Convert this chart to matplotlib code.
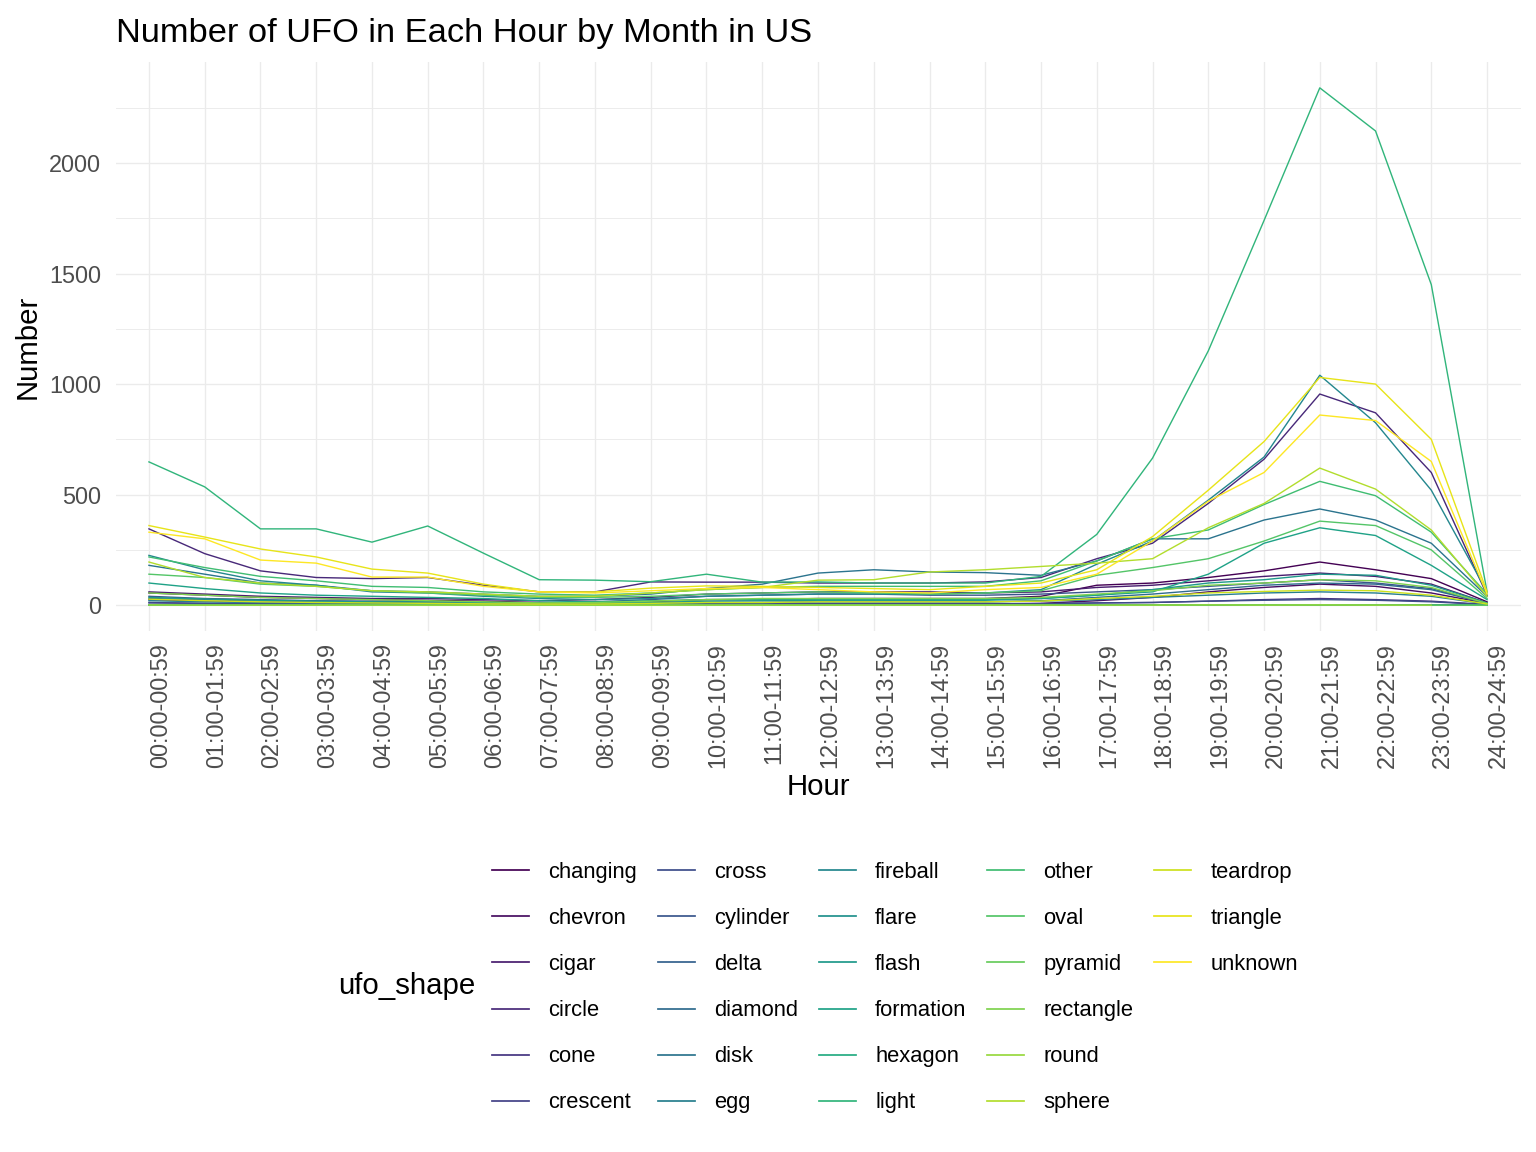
import numpy as np
import matplotlib
matplotlib.use('Agg')
import matplotlib.pyplot as plt
from matplotlib.lines import Line2D
from matplotlib.ticker import MultipleLocator

plt.rcParams['font.family'] = ['Liberation Sans', 'DejaVu Sans']

hours = ['%02d:00-%02d:59' % (h, h) for h in range(25)]

shapes = ['changing', 'chevron', 'cigar', 'circle', 'cone', 'crescent', 'cross',
          'cylinder', 'delta', 'diamond', 'disk', 'egg', 'fireball', 'flare',
          'flash', 'formation', 'hexagon', 'light', 'other', 'oval', 'pyramid',
          'rectangle', 'round', 'sphere', 'teardrop', 'triangle', 'unknown']

changing = [55, 45, 35, 30, 25, 22, 18, 12, 10, 15, 25, 25, 30, 30, 30, 30, 40, 90, 100, 125, 155, 195, 160, 120, 15]
chevron = [25, 18, 12, 10, 8, 6, 5, 3, 2, 3, 5, 5, 5, 5, 5, 5, 8, 20, 35, 60, 80, 95, 85, 55, 8]
cigar = [60, 50, 40, 35, 30, 30, 25, 20, 25, 35, 50, 55, 60, 60, 60, 55, 60, 80, 90, 110, 130, 145, 130, 95, 10]
circle = [345, 233, 155, 125, 120, 125, 90, 60, 60, 105, 104, 104, 100, 100, 100, 105, 125, 210, 280, 460, 660, 955, 870, 600, 45]
cone = [12, 8, 6, 5, 4, 4, 3, 2, 2, 3, 5, 5, 6, 6, 6, 6, 7, 10, 12, 18, 25, 30, 25, 18, 3]
crescent = [1, 1, 0, 0, 0, 0, 0, 0, 0, 0, 0, 0, 1, 0, 0, 0, 0, 1, 1, 1, 1, 1, 1, 1, 0]
cross = [10, 8, 6, 5, 4, 4, 3, 2, 2, 3, 5, 5, 5, 5, 5, 5, 6, 10, 12, 18, 22, 25, 22, 15, 2]
cylinder = [40, 30, 25, 20, 18, 15, 12, 10, 15, 25, 40, 45, 50, 50, 45, 45, 50, 60, 70, 85, 100, 115, 100, 75, 8]
delta = [0, 0, 0, 0, 0, 0, 0, 0, 0, 0, 0, 0, 0, 0, 0, 0, 0, 1, 1, 1, 2, 2, 1, 1, 0]
diamond = [30, 25, 18, 15, 12, 10, 8, 5, 5, 8, 12, 12, 15, 15, 15, 15, 20, 35, 50, 70, 90, 100, 95, 70, 8]
disk = [180, 140, 100, 90, 65, 60, 50, 40, 40, 50, 75, 95, 145, 160, 150, 147, 135, 200, 300, 300, 385, 435, 385, 280, 40]
egg = [20, 15, 12, 10, 8, 6, 5, 4, 5, 8, 12, 12, 15, 15, 15, 15, 18, 25, 35, 45, 55, 60, 55, 40, 5]
fireball = [225, 160, 110, 90, 60, 55, 40, 30, 25, 30, 40, 45, 50, 50, 50, 55, 70, 185, 290, 475, 670, 1040, 825, 520, 60]
flare = [0, 0, 0, 0, 0, 0, 0, 0, 0, 0, 0, 0, 0, 0, 0, 0, 0, 0, 1, 1, 1, 1, 1, 0, 0]
flash = [35, 28, 22, 18, 15, 15, 12, 10, 10, 12, 18, 20, 22, 22, 22, 22, 30, 45, 70, 100, 115, 140, 135, 90, 10]
formation = [100, 75, 55, 45, 40, 35, 30, 20, 15, 20, 25, 25, 25, 25, 25, 25, 30, 45, 60, 140, 280, 350, 315, 180, 25]
hexagon = [0, 0, 0, 0, 0, 0, 0, 0, 0, 0, 0, 0, 0, 0, 0, 0, 0, 0, 0, 1, 1, 1, 0, 0, 0]
light = [648, 535, 345, 345, 285, 358, 235, 115, 113, 106, 140, 104, 105, 100, 100, 100, 130, 320, 665, 1150, 1740, 2340, 2145, 1450, 60]
other = [218, 170, 130, 110, 85, 80, 60, 50, 45, 55, 70, 80, 85, 85, 85, 85, 110, 200, 300, 340, 455, 560, 495, 330, 50]
oval = [140, 125, 95, 85, 65, 55, 45, 35, 35, 40, 50, 55, 60, 55, 50, 55, 65, 135, 170, 210, 290, 380, 360, 250, 30]
pyramid = [0, 0, 0, 0, 0, 0, 0, 0, 0, 0, 0, 0, 0, 0, 0, 0, 0, 0, 1, 1, 1, 1, 1, 0, 0]
rectangle = [55, 45, 35, 30, 25, 20, 15, 10, 12, 18, 25, 30, 30, 30, 30, 30, 35, 50, 65, 90, 100, 115, 110, 80, 8]
round_ = [1, 0, 0, 0, 0, 0, 0, 0, 0, 0, 0, 0, 0, 0, 0, 0, 0, 0, 0, 1, 0, 1, 0, 0, np.nan]
sphere = [195, 125, 100, 85, 65, 60, 50, 40, 40, 55, 70, 80, 113, 115, 150, 160, 175, 190, 210, 350, 460, 620, 525, 340, 40]
teardrop = [27, 20, 15, 12, 10, 8, 6, 5, 5, 8, 12, 12, 15, 15, 15, 15, 18, 30, 40, 55, 62, 68, 65, 45, 5]
triangle = [360, 308, 254, 218, 163, 145, 95, 60, 60, 77, 87, 85, 80, 75, 70, 85, 100, 160, 310, 520, 740, 1030, 1000, 750, 60]
unknown = [330, 300, 204, 190, 127, 127, 85, 60, 55, 65, 75, 80, 70, 60, 55, 70, 80, 140, 290, 470, 600, 860, 835, 650, 50]

series = [changing, chevron, cigar, circle, cone, crescent, cross, cylinder, delta,
          diamond, disk, egg, fireball, flare, flash, formation, hexagon, light,
          other, oval, pyramid, rectangle, round_, sphere, teardrop, triangle, unknown]

W, H = 1536, 1152
fig = plt.figure(figsize=(16, 12), dpi=96)
ax = fig.add_axes([115.5 / W, 1 - 631 / H, (1520.5 - 115.5) / W, (631 - 62) / H])

colors = plt.cm.viridis(np.linspace(0, 1, len(shapes)))
x = np.arange(len(hours))
handles = []
for name, vals, c in zip(shapes, series, colors):
    ln, = ax.plot(x, vals, color=c, lw=1.05, label=name)
    handles.append(ln)

ymax = np.nanmax([np.nanmax(v) for v in series])
ax.set_ylim(-0.05 * ymax, 1.05 * ymax)
ax.set_xlim(-0.6, len(hours) - 1 + 0.6)

ax.set_xticks(x)
ax.set_xticklabels(hours, rotation=90, ha='left', va='top')
ax.yaxis.set_major_locator(MultipleLocator(500))
ax.yaxis.set_minor_locator(MultipleLocator(250))
ax.tick_params(axis='both', which='both', length=0, labelsize=17.6, colors='#4D4D4D')
ax.tick_params(axis='x', pad=9)
ax.tick_params(axis='y', pad=11)
ax.grid(which='major', color='#EBEBEB', lw=1.0)
ax.grid(which='minor', axis='y', color='#EBEBEB', lw=0.7)
ax.set_axisbelow(True)
for s in ax.spines.values():
    s.set_visible(False)

fig.text(818 / W, 1 - 787 / H, 'Hour', fontsize=22, ha='center', va='center')
fig.text(28 / W, 1 - 347 / H, 'Number', fontsize=22, ha='center', va='center', rotation=90)
fig.text(116 / W, 1 - 42 / H, 'Number of UFO in Each Hour by Month in US',
         fontsize=25.8, ha='left', va='baseline')

# legend: title on the left, keys filled column-wise 6 per column (ggplot style)
fig.text(338 / W, 1 - 986 / H, 'ufo_shape', fontsize=22, ha='left', va='center')
blank = Line2D([], [], color='none')
leg_handles = handles + [blank] * 3
leg_labels = shapes + [''] * 3
leg = fig.legend(leg_handles, leg_labels, loc='upper left', bbox_to_anchor=(492 / W, 1 - 862 / H),
                 ncol=5, frameon=False, fontsize=16.5, handlelength=1.68,
                 handletextpad=0.88, columnspacing=0.94, labelspacing=1.14,
                 borderpad=0, borderaxespad=0)
for h in leg.legend_handles:
    h.set_linewidth(1.3)

fig.savefig('out.png', dpi=96, facecolor='white')
